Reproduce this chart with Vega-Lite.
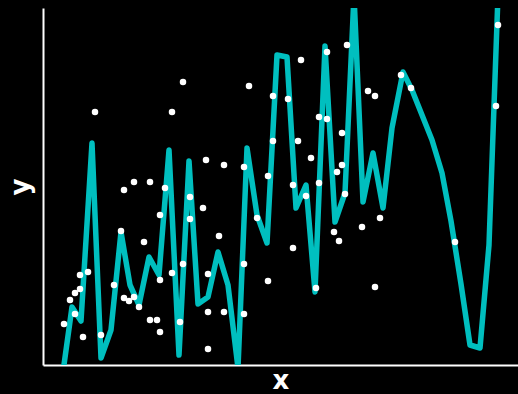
{
  "$schema": "https://vega.github.io/schema/vega-lite/v6.json",
  "width": 475,
  "height": 357,
  "autosize": {"type": "none"},
  "padding": {"left": 43, "top": 8, "right": 0, "bottom": 29},
  "background": "#000000",
  "config": {
    "view": {"stroke": null},
    "axis": {
      "domainColor": "#ffffff",
      "domainWidth": 2,
      "ticks": false,
      "labels": false,
      "grid": false,
      "titleColor": "#ffffff",
      "titleFont": "DejaVu Sans",
      "titleFontSize": 26,
      "titleFontWeight": "bold"
    }
  },
  "datasets": {
    "curve": [
      {"x": 63, "y": -7}, {"x": 72, "y": 58}, {"x": 81, "y": 44}, {"x": 92, "y": 222},
      {"x": 101, "y": 7}, {"x": 111, "y": 35}, {"x": 121, "y": 133}, {"x": 130, "y": 80},
      {"x": 139, "y": 60}, {"x": 149, "y": 108}, {"x": 159, "y": 90}, {"x": 169, "y": 215},
      {"x": 179, "y": 10}, {"x": 189, "y": 204}, {"x": 198, "y": 61}, {"x": 208, "y": 68},
      {"x": 218, "y": 113}, {"x": 228, "y": 80}, {"x": 238, "y": -3}, {"x": 247, "y": 217},
      {"x": 257, "y": 150}, {"x": 267, "y": 122}, {"x": 277, "y": 310}, {"x": 287, "y": 308},
      {"x": 296, "y": 157}, {"x": 306, "y": 180}, {"x": 315, "y": 73}, {"x": 325, "y": 319},
      {"x": 335, "y": 143}, {"x": 345, "y": 172}, {"x": 354, "y": 370}, {"x": 363, "y": 163},
      {"x": 373, "y": 212}, {"x": 383, "y": 157}, {"x": 392, "y": 237}, {"x": 403, "y": 293},
      {"x": 412, "y": 275}, {"x": 422, "y": 250}, {"x": 432, "y": 225}, {"x": 442, "y": 192},
      {"x": 451, "y": 144}, {"x": 461, "y": 81}, {"x": 470, "y": 20}, {"x": 480, "y": 17},
      {"x": 489, "y": 120}, {"x": 498, "y": 370}
    ],
    "points": [
      {"x": 64, "y": 41}, {"x": 70, "y": 65}, {"x": 75, "y": 72}, {"x": 75, "y": 51},
      {"x": 80, "y": 90}, {"x": 80, "y": 76}, {"x": 83, "y": 28}, {"x": 88, "y": 93},
      {"x": 95, "y": 253}, {"x": 101, "y": 30}, {"x": 114, "y": 80}, {"x": 121, "y": 134},
      {"x": 124, "y": 175}, {"x": 124, "y": 67}, {"x": 129, "y": 64}, {"x": 134, "y": 183},
      {"x": 134, "y": 68}, {"x": 139, "y": 58}, {"x": 144, "y": 123}, {"x": 150, "y": 183},
      {"x": 150, "y": 45}, {"x": 157, "y": 45}, {"x": 160, "y": 150}, {"x": 160, "y": 85},
      {"x": 160, "y": 33}, {"x": 165, "y": 177}, {"x": 172, "y": 253}, {"x": 172, "y": 92},
      {"x": 180, "y": 43}, {"x": 183, "y": 283}, {"x": 183, "y": 101}, {"x": 190, "y": 168},
      {"x": 190, "y": 146}, {"x": 203, "y": 157}, {"x": 206, "y": 205}, {"x": 208, "y": 91},
      {"x": 208, "y": 53}, {"x": 208, "y": 16}, {"x": 219, "y": 129}, {"x": 224, "y": 200},
      {"x": 224, "y": 53}, {"x": 244, "y": 198}, {"x": 244, "y": 101}, {"x": 244, "y": 51},
      {"x": 249, "y": 279}, {"x": 257, "y": 147}, {"x": 268, "y": 189}, {"x": 268, "y": 84},
      {"x": 273, "y": 269}, {"x": 273, "y": 224}, {"x": 288, "y": 266}, {"x": 293, "y": 180},
      {"x": 293, "y": 117}, {"x": 298, "y": 224}, {"x": 301, "y": 305}, {"x": 306, "y": 169},
      {"x": 311, "y": 207}, {"x": 316, "y": 77}, {"x": 319, "y": 248}, {"x": 319, "y": 182},
      {"x": 327, "y": 313}, {"x": 327, "y": 246}, {"x": 334, "y": 133}, {"x": 337, "y": 193},
      {"x": 339, "y": 124}, {"x": 342, "y": 232}, {"x": 342, "y": 200}, {"x": 345, "y": 171},
      {"x": 347, "y": 320}, {"x": 362, "y": 138}, {"x": 368, "y": 274}, {"x": 375, "y": 269},
      {"x": 375, "y": 78}, {"x": 380, "y": 147}, {"x": 401, "y": 290}, {"x": 411, "y": 277},
      {"x": 455, "y": 123}, {"x": 496, "y": 259}, {"x": 498, "y": 340}
    ]
  },
  "encoding": {
    "x": {"field": "x", "type": "quantitative", "scale": {"domain": [43, 518], "nice": false, "zero": false}, "axis": {"title": "x", "titlePadding": 2}},
    "y": {"field": "y", "type": "quantitative", "scale": {"domain": [0, 357], "nice": false, "zero": false}, "axis": {"title": "y", "titlePadding": 10}}
  },
  "layer": [
    {
      "data": {"name": "curve"},
      "mark": {"type": "line", "color": "#00bfbf", "strokeWidth": 5.5, "strokeJoin": "round", "clip": true}
    },
    {
      "data": {"name": "points"},
      "mark": {"type": "point", "filled": true, "color": "#ffffff", "opacity": 1, "size": 42, "clip": true}
    }
  ]
}
